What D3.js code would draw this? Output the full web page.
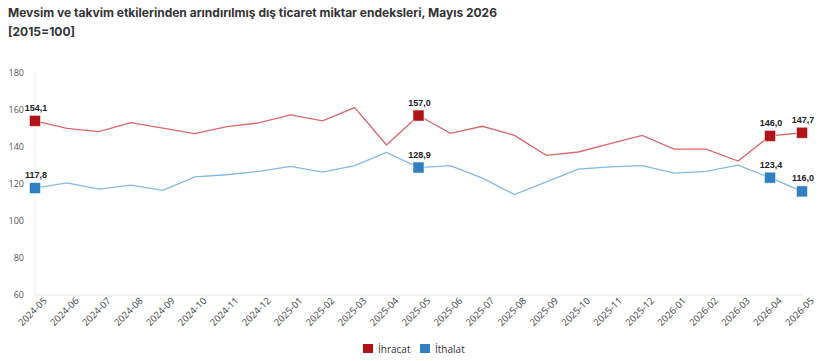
<!DOCTYPE html>
<html>
<head>
<meta charset="utf-8">
<script src="https://cdn.jsdelivr.net/npm/d3@7"></script>
<style>
  body { margin: 0; background: #fff; }
</style>
</head>
<body>
<div id="chart"></div>
<script>
// months on the x axis
var months = ["2024-05","2024-06","2024-07","2024-08","2024-09","2024-10","2024-11","2024-12",
  "2025-01","2025-02","2025-03","2025-04","2025-05","2025-06","2025-07","2025-08","2025-09",
  "2025-10","2025-11","2025-12","2026-01","2026-02","2026-03","2026-04","2026-05"];

// Ihracat (export) index
var ihracat = [154.1,150.1,148.3,153.2,150.2,147.2,151.0,153.0,157.4,154.1,161.3,141.1,157.0,
  147.4,151.2,146.3,135.5,137.3,141.8,146.3,138.9,138.9,132.4,146.0,147.7];

// Ithalat (import) index
var ithalat = [117.8,120.6,117.2,119.4,116.6,123.9,125.0,126.8,129.5,126.4,129.9,137.1,128.9,
  129.9,123.2,114.3,121.2,128.0,129.3,129.9,125.9,126.8,130.2,123.4,116.0];

// points that get a marker + label
var labelled = [0, 12, 23, 24];
var yTicks = [60, 80, 100, 120, 140, 160, 180];

var W = 820, H = 361;
var margin = {top: 73, right: 18, bottom: 66, left: 35},
    width = W - margin.left - margin.right,
    height = H - margin.top - margin.bottom;

var svg = d3.select("#chart").append("svg")
    .attr("width", W).attr("height", H);

// title
svg.append("text")
  .attr("x", 8).attr("y", 17)
  .attr("font-family", "Inter")
  .attr("font-weight", "bold")
  .attr("font-size", "12px")
  .attr("fill", "#333")
  .text("Mevsim ve takvim etkilerinden arındırılmış dış ticaret miktar endeksleri, Mayıs 2026");
svg.append("text")
  .attr("x", 8).attr("y", 36)
  .attr("font-family", "Inter")
  .attr("font-weight", "bold")
  .attr("font-size", "12px")
  .attr("fill", "#333")
  .text("[2015=100]");

var g = svg.append("g")
  .attr("transform", "translate(" + margin.left + "," + margin.top + ")");

var x = d3.scalePoint().domain(months).range([0, width]);
var y = d3.scaleLinear().domain([60, 180]).range([height, 0]);

// y axis (labels only)
var yAxis = g.append("g")
  .call(d3.axisLeft(y).tickValues(yTicks).tickSize(0).tickPadding(11));
yAxis.select(".domain").remove();
yAxis.selectAll("text")
  .attr("font-family", "Open Sans")
  .attr("font-size", "9px")
  .attr("fill", "#555");

// axis lines
g.append("line")
  .attr("x1", 0).attr("x2", 0).attr("y1", 0).attr("y2", height)
  .attr("stroke", "#eee");
g.append("line")
  .attr("x1", 0).attr("x2", width).attr("y1", height).attr("y2", height)
  .attr("stroke", "#e6e6e6");

// x axis
var xAxis = g.append("g")
  .attr("transform", "translate(0," + height + ")")
  .call(d3.axisBottom(x).tickSize(0).tickPadding(7));
xAxis.select(".domain").remove();
xAxis.selectAll("text")
  .attr("font-family", "Open Sans")
  .attr("font-size", "9.5px")
  .attr("fill", "#444")
  .attr("text-anchor", "end")
  .attr("dx", "4px")
  .attr("dy", "6px")
  .attr("transform", "rotate(-45)");

var series = [
  {name: "İhracat", values: ihracat, line: "#d9676c", mark: "#b01419"},
  {name: "İthalat", values: ithalat, line: "#86b8e0", mark: "#2f7fc1"}
];

var line = d3.line()
  .x(function(d, i) { return x(months[i]); })
  .y(function(d) { return y(d); });

series.forEach(function(s) {
  g.append("path")
    .datum(s.values)
    .attr("fill", "none")
    .attr("stroke", s.line)
    .attr("stroke-width", 1.3)
    .attr("d", line);

  g.selectAll(null)
    .data(labelled)
    .enter().append("rect")
    .attr("x", function(i) { return x(months[i]) - 5.5; })
    .attr("y", function(i) { return y(s.values[i]) - 5.5; })
    .attr("width", 11).attr("height", 11)
    .attr("fill", s.mark)
    .attr("stroke", "#fff")
    .attr("stroke-opacity", 0.5)
    .attr("stroke-width", 1);

  g.selectAll(null)
    .data(labelled)
    .enter().append("text")
    .attr("x", function(i) { return x(months[i]) + 1; })
    .attr("y", function(i) { return y(s.values[i]) - 10; })
    .attr("text-anchor", "middle")
    .attr("font-family", "Liberation Sans")
    .attr("font-weight", "bold")
    .attr("font-size", "9px")
    .attr("fill", "#222")
    .text(function(i) { return s.values[i].toFixed(1).replace(".", ","); });
});

// legend
var legend = svg.append("g").attr("transform", "translate(363,344)");
var lx = [0, 57];
series.forEach(function(s, k) {
  legend.append("rect")
    .attr("x", lx[k]).attr("y", 0)
    .attr("width", 10).attr("height", 9)
    .attr("fill", s.mark);
  legend.append("text")
    .attr("x", lx[k] + 15).attr("y", 8.5)
    .attr("font-family", "Open Sans")
    .attr("font-size", "10px")
    .attr("fill", "#333")
    .text(s.name);
});
</script>
</body>
</html>
